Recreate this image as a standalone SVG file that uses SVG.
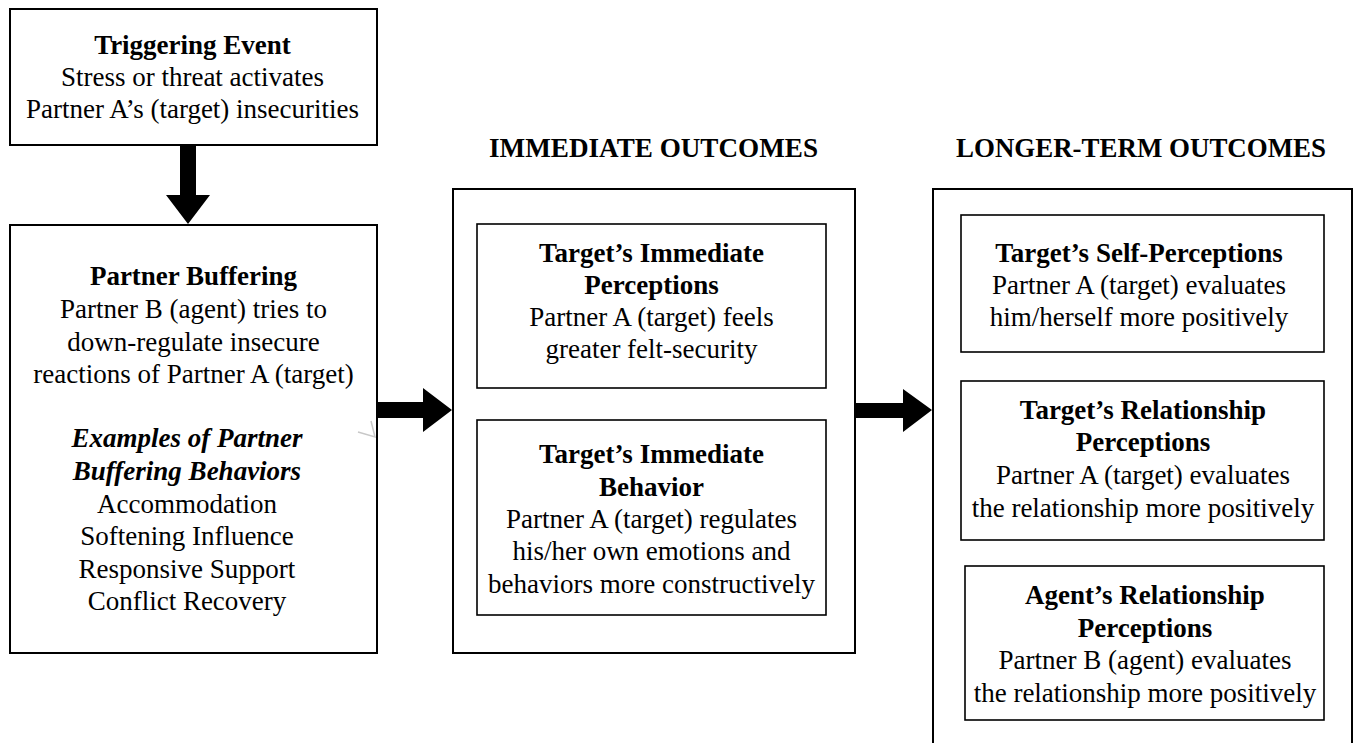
<svg xmlns="http://www.w3.org/2000/svg" width="1355" height="743" viewBox="0 0 1355 743">
<style>
  .box { fill: #ffffff; stroke: #000000; stroke-width: 2; }
  .inner { fill: #ffffff; stroke: #000000; stroke-width: 1.6; }
  text { font-family: "Liberation Serif", "Times New Roman", serif; font-size: 27px; fill: #000000; text-anchor: middle; }
  .b { font-weight: bold; }
  .bi { font-weight: bold; font-style: italic; }
  .hd { font-weight: bold; font-size: 27px; }
  .arrow { fill: #000000; stroke: none; }
</style>
<rect width="1355" height="743" fill="#ffffff"/>

<g id="triggering-event">
  <rect class="box" x="10" y="9" width="367" height="136"/>
  <text class="b" x="192.5" y="54">Triggering Event</text>
  <text x="192.5" y="86">Stress or threat activates</text>
  <text x="192.5" y="118">Partner A’s (target) insecurities</text>
</g>

<g id="partner-buffering">
  <rect class="box" x="10" y="225" width="367" height="428"/>
  <text class="b" x="193.5" y="285">Partner Buffering</text>
  <text x="193.5" y="318">Partner B (agent) tries to</text>
  <text x="193.5" y="351">down-regulate insecure</text>
  <text x="193.5" y="383">reactions of Partner A (target)</text>
  <text class="bi" x="187" y="447">Examples of Partner</text>
  <text class="bi" x="187" y="480">Buffering Behaviors</text>
  <text x="187" y="513">Accommodation</text>
  <text x="187" y="545">Softening Influence</text>
  <text x="187" y="578">Responsive Support</text>
  <text x="187" y="610">Conflict Recovery</text>
</g>

<g id="immediate-outcomes">
  <text class="hd" x="653.5" y="157" textLength="329" lengthAdjust="spacingAndGlyphs">IMMEDIATE OUTCOMES</text>
  <rect class="box" x="453" y="189" width="402" height="464"/>
</g>

<g id="targets-immediate-perceptions">
  <rect class="inner" x="477" y="224" width="349" height="164"/>
  <text class="b" x="651.5" y="262">Target’s Immediate</text>
  <text class="b" x="651.5" y="294">Perceptions</text>
  <text x="651.5" y="326">Partner A (target) feels</text>
  <text x="651.5" y="358">greater felt-security</text>
</g>

<g id="targets-immediate-behavior">
  <rect class="inner" x="477" y="420" width="349" height="195"/>
  <text class="b" x="651.5" y="463">Target’s Immediate</text>
  <text class="b" x="651.5" y="496">Behavior</text>
  <text x="651.5" y="528">Partner A (target) regulates</text>
  <text x="651.5" y="560">his/her own emotions and</text>
  <text x="651.5" y="593">behaviors more constructively</text>
</g>

<g id="longer-term-outcomes">
  <text class="hd" x="1141" y="157" textLength="370" lengthAdjust="spacingAndGlyphs">LONGER-TERM OUTCOMES</text>
  <rect class="box" x="933" y="189" width="419" height="600"/>
</g>

<g id="targets-self-perceptions">
  <rect class="inner" x="961" y="215" width="363" height="137"/>
  <text class="b" x="1139" y="262">Target’s Self-Perceptions</text>
  <text x="1139" y="294">Partner A (target) evaluates</text>
  <text x="1139" y="326">him/herself more positively</text>
</g>

<g id="targets-relationship-perceptions">
  <rect class="inner" x="961" y="381" width="363" height="159"/>
  <text class="b" x="1143" y="419">Target’s Relationship</text>
  <text class="b" x="1143" y="451">Perceptions</text>
  <text x="1143" y="484">Partner A (target) evaluates</text>
  <text x="1143" y="517">the relationship more positively</text>
</g>

<g id="agents-relationship-perceptions">
  <rect class="inner" x="965" y="566" width="359" height="154"/>
  <text class="b" x="1145" y="604">Agent’s Relationship</text>
  <text class="b" x="1145" y="637">Perceptions</text>
  <text x="1145" y="669">Partner B (agent) evaluates</text>
  <text x="1145" y="702">the relationship more positively</text>
</g>

<g id="connectors">
  <polygon class="arrow" points="180,146 196,146 196,195 210,195 188,224 166,195 180,195"/>
  <polygon class="arrow" points="378,402 423,402 423,388 452,410 423,432 423,418 378,418"/>
  <polygon class="arrow" points="856,403 903,403 903,389 932,410 903,432 903,418 856,418"/>
</g>

<polyline points="358,432 375,437 371,421" fill="none" stroke="#c8c8c8" stroke-width="1.5"/>
</svg>
